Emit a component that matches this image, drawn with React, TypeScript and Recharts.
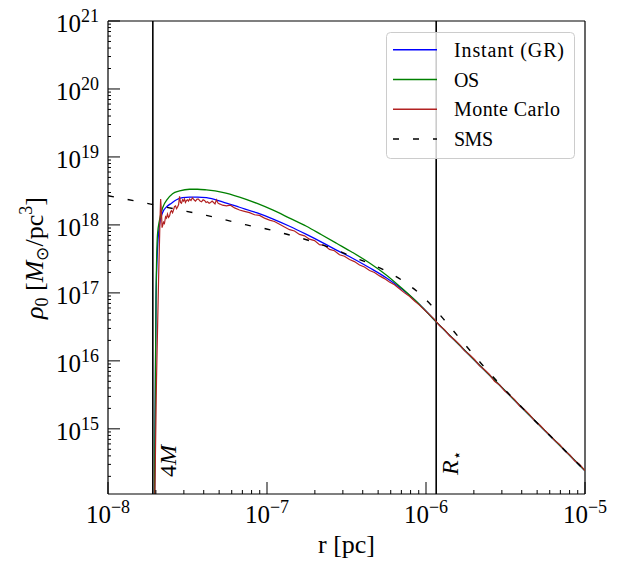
import React from 'react';
import { LineChart, Line, XAxis, YAxis, ReferenceLine, Legend } from 'recharts';

const FONT = "'Liberation Serif', 'Times New Roman', Times, serif";

// ---- data (log10 r [pc], log10 rho0 [Msun/pc^3]) ----
const instantLogR = [-7.709, -7.698, -7.689, -7.676, -7.657, -7.632, -7.601, -7.569, -7.531, -7.487, -7.437, -7.381, -7.280, -7.173, -7.066, -6.965, -6.858, -6.752, -6.651, -6.563, -6.462, -6.355, -6.248, -6.148, -6.041, -5.934, -5.770, -5.557, -5.349, -5.142, -5.000];
const instantLogRho = [13.5, 16.90, 17.63, 18.00, 18.18, 18.265, 18.32, 18.37, 18.40, 18.41, 18.41, 18.40, 18.34, 18.26, 18.18, 18.09, 17.98, 17.86, 17.74, 17.63, 17.51, 17.37, 17.22, 17.05, 16.83, 16.57, 16.186, 15.688, 15.201, 14.717, 14.384];

const osLogR = [-7.709, -7.698, -7.689, -7.676, -7.655, -7.626, -7.594, -7.550, -7.487, -7.437, -7.381, -7.280, -7.173, -7.066, -6.965, -6.858, -6.752, -6.657, -6.563, -6.462, -6.355, -6.248, -6.148, -6.041, -5.934, -5.770, -5.557, -5.349, -5.142, -5.000];
const osLogRho = [13.5, 16.90, 17.85, 18.07, 18.26, 18.38, 18.46, 18.50, 18.525, 18.525, 18.515, 18.48, 18.41, 18.32, 18.22, 18.10, 17.98, 17.855, 17.73, 17.595, 17.44, 17.26, 17.06, 16.83, 16.57, 16.186, 15.688, 15.201, 14.717, 14.384];

const mcLogR = [-7.708, -7.695, -7.682, -7.673, -7.669, -7.664, -7.660, -7.655, -7.651, -7.645, -7.638, -7.632, -7.626, -7.619, -7.613, -7.607, -7.601, -7.594, -7.588, -7.582, -7.575, -7.569, -7.563, -7.556, -7.550, -7.544, -7.538, -7.531, -7.525, -7.519, -7.513, -7.506, -7.500, -7.494, -7.487, -7.478, -7.469, -7.459, -7.450, -7.440, -7.431, -7.421, -7.412, -7.402, -7.393, -7.383, -7.374, -7.364, -7.355, -7.345, -7.336, -7.327, -7.318, -7.308, -7.299, -7.289, -7.280, -7.255, -7.230, -7.204, -7.173, -7.142, -7.110, -7.079, -7.047, -7.016, -6.984, -6.953, -6.921, -6.890, -6.858, -6.827, -6.796, -6.764, -6.733, -6.701, -6.670, -6.639, -6.607, -6.576, -6.544, -6.513, -6.481, -6.450, -6.418, -6.387, -6.355, -6.324, -6.292, -6.261, -6.230, -6.198, -6.167, -6.135, -6.104, -6.072, -6.041, -6.010, -5.978, -5.947, -5.915, -5.884, -5.852, -5.821, -5.789, -5.758, -5.726, -5.695, -5.664, -5.632, -5.601, -5.569, -5.538, -5.506, -5.475, -5.443, -5.412, -5.380, -5.349, -5.317, -5.286, -5.254, -5.223, -5.191, -5.160, -5.128, -5.097, -5.065, -5.035, -5.000];
const mcLogRho = [13.6, 15.72, 17.19, 18.07, 18.38, 18.20, 17.96, 18.00, 18.04, 18.02, 18.12, 18.10, 18.16, 18.11, 18.13, 18.19, 18.21, 18.18, 18.22, 18.27, 18.28, 18.24, 18.26, 18.30, 18.42, 18.33, 18.32, 18.37, 18.35, 18.38, 18.33, 18.36, 18.37, 18.35, 18.38, 18.36, 18.40, 18.37, 18.35, 18.38, 18.38, 18.35, 18.34, 18.37, 18.36, 18.33, 18.34, 18.32, 18.33, 18.35, 18.33, 18.31, 18.37, 18.32, 18.31, 18.30, 18.29, 18.28, 18.29, 18.25, 18.22, 18.20, 18.18, 18.15, 18.14, 18.10, 18.07, 18.05, 18.01, 17.97, 17.93, 17.91, 17.86, 17.84, 17.79, 17.77, 17.71, 17.70, 17.64, 17.62, 17.56, 17.54, 17.49, 17.46, 17.41, 17.38, 17.33, 17.30, 17.25, 17.21, 17.16, 17.12, 17.06, 17.00, 16.95, 16.88, 16.82, 16.75, 16.68, 16.61, 16.52, 16.46, 16.37, 16.31, 16.24, 16.15, 16.09, 16.02, 15.93, 15.87, 15.80, 15.70, 15.65, 15.56, 15.50, 15.43, 15.34, 15.28, 15.21, 15.12, 15.06, 14.98, 14.91, 14.83, 14.77, 14.68, 14.62, 14.53, 14.48, 14.385];

const smsLogR = [-8.0, -7.739, -7.632, -7.506, -7.381, -7.255, -7.129, -7.003, -6.903, -6.777, -6.670, -6.575, -6.462, -6.343, -6.242, -6.135, -6.041, -5.959, -5.877, -5.802, -5.726, -5.645, -5.557, -5.349, -5.142, -5.000];
const smsLogRho = [18.43, 18.31, 18.26, 18.20, 18.14, 18.07, 18.00, 17.94, 17.88, 17.80, 17.72, 17.64, 17.53, 17.42, 17.31, 17.16, 16.99, 16.80, 16.58, 16.37, 16.16, 15.94, 15.71, 15.201, 14.717, 14.384];

const r4M = 1.914e-8;
const rStar = 1.159e-6;

const legendNames = ['Instant (GR)', 'OS', 'Monte Carlo', 'SMS'];
const legendColors = ['#0000ff', '#008000', '#b22222', '#000000'];
const legendDash = [undefined, undefined, undefined, '6 14'];
const legendTextWidths = [110, 25, 106, 39];

const xMajorExp = [-8, -7, -6, -5];
const yMajorExp = [15, 16, 17, 18, 19, 20, 21];
const minorMult = [2, 3, 4, 5, 6, 7, 8, 9];

// ---- tables built for recharts ----
const toPoints = (lr: number[], lrho: number[]) =>
  lr.map((v, i) => ({ r: Math.pow(10, v), rho: Math.pow(10, lrho[i]) }));

const instantData = toPoints(instantLogR, instantLogRho);
const osData = toPoints(osLogR, osLogRho);
const mcData = toPoints(mcLogR, mcLogRho);
const smsData = toPoints(smsLogR, smsLogRho);

const xTicks: number[] = [];
xMajorExp.forEach((e) => {
  xTicks.push(Math.pow(10, e));
  if (e < -5) minorMult.forEach((m) => xTicks.push(m * Math.pow(10, e)));
});
const yTicks: number[] = [];
[14, ...yMajorExp].forEach((e) => {
  if (e >= 15) yTicks.push(Math.pow(10, e));
  if (e < 21) minorMult.forEach((m) => yTicks.push(m * Math.pow(10, e)));
});

const isMajor = (v: number) => {
  const lg = Math.log10(v);
  return Math.abs(lg - Math.round(lg)) < 1e-6;
};

const XTick = (props: any) => {
  const { x, y, payload } = props;
  const v = payload.value;
  const major = isMajor(v);
  const e = Math.round(Math.log10(v));
  return (
    <g>
      <line x1={x} x2={x} y1={y} y2={y - (major ? 12 : 4)} stroke="#000" strokeWidth={1} />
      {major && (
        <text x={x} y={y + 29} textAnchor="middle" style={{ fontFamily: FONT }} fill="#000">
          <tspan fontSize={25}>10</tspan>
          <tspan fontSize={18} dy={-10}>{'\u2212' + Math.abs(e)}</tspan>
        </text>
      )}
    </g>
  );
};

const YTick = (props: any) => {
  const { x, y, payload } = props;
  const v = payload.value;
  const major = isMajor(v);
  const e = Math.round(Math.log10(v));
  return (
    <g>
      <line x1={x} x2={x + (major ? 12 : 3)} y1={y} y2={y} stroke="#000" strokeWidth={1} />
      {major && (
        <text x={x - 9} y={y + 11} textAnchor="end" style={{ fontFamily: FONT }} fill="#000">
          <tspan fontSize={25}>10</tspan>
          <tspan fontSize={18} dy={-10}>{String(e)}</tspan>
        </text>
      )}
    </g>
  );
};

const renderLegend = () => (
  <svg width={190} height={128} style={{ display: 'block' }}>
    <rect x={0.5} y={0.5} width={188} height={126} rx={4} ry={4} fill="#ffffff" fillOpacity={0.8} stroke="#cccccc" strokeWidth={1} />
    {legendNames.map((n, i) => {
      const cy = 17.8 + i * 29.7;
      return (
        <g key={n}>
          <line x1={7} x2={51} y1={cy} y2={cy} stroke={legendColors[i]} strokeWidth={1.5} strokeDasharray={legendDash[i]} />
          <text x={68} y={cy + 7} style={{ fontFamily: FONT }} fontSize={20} fill="#000" textLength={legendTextWidths[i]} lengthAdjust="spacing">
            {n}
          </text>
        </g>
      );
    })}
  </svg>
);

const label4M = (props: any) => {
  const vb = props.viewBox || {};
  const x = vb.x + 23;
  const y = vb.y + vb.height - 17;
  return (
    <text transform={`translate(${x},${y}) rotate(-90)`} style={{ fontFamily: FONT }} fontSize={24} fill="#000">
      <tspan>4</tspan>
      <tspan fontStyle="italic">M</tspan>
    </text>
  );
};

const labelRStar = (props: any) => {
  const vb = props.viewBox || {};
  const x = vb.x + 22;
  const y = vb.y + vb.height - 19;
  return (
    <text transform={`translate(${x},${y}) rotate(-90)`} style={{ fontFamily: FONT }} fontSize={24} fill="#000">
      <tspan fontStyle="italic">R</tspan>
      <tspan fontSize={15} dy={4}>{'\u22C6'}</tspan>
    </text>
  );
};

const yLabel = () => (
  <text transform="translate(43,258) rotate(-90)" textAnchor="middle" style={{ fontFamily: FONT }} fontSize={26} fill="#000">
    <tspan fontStyle="italic">{'\u03C1'}</tspan>
    <tspan fontSize={18} dy={5}>0</tspan>
    <tspan dy={-5}>{' ['}</tspan>
    <tspan fontStyle="italic">M</tspan>
    <tspan fontSize={17} dy={5}>{'\u2299'}</tspan>
    <tspan dy={-5}>/pc</tspan>
    <tspan fontSize={18} dy={-11}>3</tspan>
    <tspan dy={11}>]</tspan>
  </text>
);

const xLabel = (props: any) => {
  const vb = props.viewBox || {};
  return (
    <text x={vb.x + vb.width / 2} y={vb.y + 59} textAnchor="middle" style={{ fontFamily: FONT }} fontSize={26} fill="#000">
      r [pc]
    </text>
  );
};

export default function App() {
  return (
    <div style={{ position: 'absolute', left: 0, top: 0, width: 631, height: 562, background: '#fff', fontFamily: FONT }}>
      <LineChart width={631} height={562} margin={{ top: 21, right: 46, bottom: 0, left: 8 }}>
        <XAxis
          dataKey="r"
          type="number"
          scale="log"
          domain={[1e-8, 1e-5]}
          allowDataOverflow
          ticks={xTicks}
          interval={0}
          tick={(p: any) => <XTick {...p} />}
          tickLine={false}
          tickSize={0}
          tickMargin={0}
          height={68}
          axisLine={{ stroke: '#000', strokeWidth: 1.2 }}
          label={xLabel}
        />
        <YAxis
          dataKey="rho"
          type="number"
          scale="log"
          domain={[1.1e14, 1e21]}
          allowDataOverflow
          ticks={yTicks}
          interval={0}
          tick={(p: any) => <YTick {...p} />}
          tickLine={false}
          tickSize={0}
          tickMargin={0}
          width={100}
          axisLine={{ stroke: '#000', strokeWidth: 1.2 }}
          label={yLabel}
        />
        <ReferenceLine y={1e21} stroke="#000" strokeWidth={1.2} />
        <ReferenceLine x={1e-5} stroke="#000" strokeWidth={1.2} />
        <ReferenceLine x={r4M} stroke="#000" strokeWidth={1.6} label={label4M} />
        <ReferenceLine x={rStar} stroke="#000" strokeWidth={1.6} label={labelRStar} />
        <Line data={instantData} dataKey="rho" type="monotone" stroke="#0000ff" strokeWidth={1.3} dot={false} isAnimationActive={false} />
        <Line data={osData} dataKey="rho" type="monotone" stroke="#008000" strokeWidth={1.3} dot={false} isAnimationActive={false} />
        <Line data={mcData} dataKey="rho" type="linear" stroke="#b22222" strokeWidth={1.2} dot={false} isAnimationActive={false} />
        <Line data={smsData} dataKey="rho" type="monotone" stroke="#000" strokeWidth={1.4} strokeDasharray="6 14" dot={false} isAnimationActive={false} />
        <Legend
          content={renderLegend}
          layout="vertical"
          align="center"
          verticalAlign="middle"
          wrapperStyle={{ position: 'absolute', left: 385.5, top: 31.5, width: 190, height: 128, margin: 0, padding: 0, lineHeight: 0 }}
        />
      </LineChart>
    </div>
  );
}
